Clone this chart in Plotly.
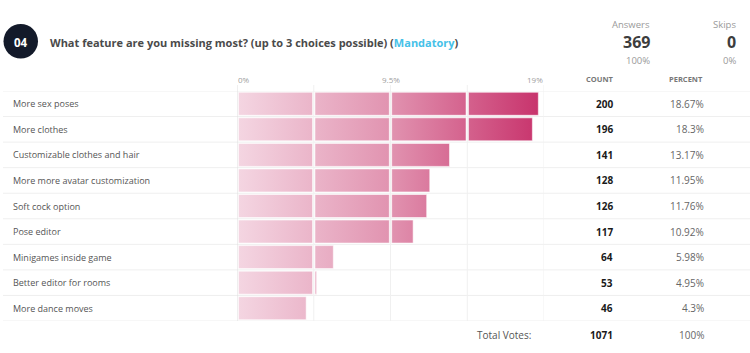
import plotly.graph_objects as go

# ---------------- data ----------------
categories = [
    "More sex poses",
    "More clothes",
    "Customizable clothes and hair",
    "More more avatar customization",
    "Soft cock option",
    "Pose editor",
    "Minigames inside game",
    "Better editor for rooms",
    "More dance moves",
]
counts = [200, 196, 141, 128, 126, 117, 64, 53, 46]
percents = [18.67, 18.3, 13.17, 11.95, 11.76, 10.92, 5.98, 4.95, 4.3]
total_votes = 1071
answers = 369
answers_pct = "100%"
skips = 0
skips_pct = "0%"
axis_max = 19
tick_vals = [0, 9.5, 19]
tick_labels = ["0%", "9.5%", "19%"]
n_segments = 4
question_no = "04"
question = "What feature are you missing most? (up to 3 choices possible)"

# ---------------- layout geometry ----------------
W, H = 750, 353
L, R, T, B = 237, 206, 91, 32
PW, PH = W - L - R, H - T - B
FONT = "Open Sans"


def px(xpix):
    return (xpix - L) / PW


def py(ypix):
    return 1 - (ypix - T) / PH


seg_w = axis_max / n_segments
seg_edges = [k * seg_w for k in range(n_segments + 1)]
gap = 1.2 / (PW / axis_max)  # ~1.2px in data units
half = 0.45

fig = go.Figure()

for i, (cat, v) in enumerate(zip(categories, percents)):
    xs, ys = [], []
    for k in range(n_segments):
        s, e = seg_edges[k], min(seg_edges[k + 1], v)
        if e <= s:
            break
        s2 = s + (gap if k > 0 else gap * 1.2)
        e2 = e - (gap if e == seg_edges[k + 1] else 0.02)
        xs += [s2, e2, e2, s2, s2, None]
        ys += [i - half, i - half, i + half, i + half, i - half, None]
    fig.add_trace(go.Scatter(
        x=xs, y=ys, mode="lines", fill="toself",
        line=dict(color="rgba(255,255,255,0.55)", width=1),
        fillgradient=dict(type="horizontal", start=0, stop=axis_max,
                          colorscale=[[0, "#f4d6e2"], [0.5, "#e193b0"], [1, "#c7306a"]]),
        hoverinfo="skip", showlegend=False, name=cat,
    ))

shapes = []
# row separators
for i in range(len(categories) + 1):
    shapes.append(dict(type="line", xref="paper", yref="y", x0=px(3), x1=px(750),
                       y0=i - 0.5, y1=i - 0.5, line=dict(color="#efefef", width=1), layer="below"))
# vertical grid lines
for k, xe in enumerate(seg_edges):
    shapes.append(dict(type="line", xref="x", yref="paper", x0=xe, x1=xe,
                       y0=0, y1=py(85), layer="below",
                       line=dict(color="#e0e0e0" if k == 0 else "#f0f0f0", width=1)))
# number circle
shapes.append(dict(type="circle", xref="paper", yref="paper",
                   x0=px(3.5), x1=px(38), y0=py(58.5), y1=py(24),
                   fillcolor="#131a2a", line=dict(width=0)))

ann = []


def add(text, xpix, ypix, anchor="left", size=10, color="#555", bold=False, family=FONT):
    ann.append(dict(text=f"<b>{text}</b>" if bold else text, xref="paper", yref="paper",
                    x=px(xpix), y=py(ypix), xanchor=anchor, yanchor="middle",
                    showarrow=False, borderpad=0, font=dict(size=size, color=color, family=family)))


add(question_no, 21, 42, "center", 11.5, "white", True)
ann.append(dict(text=f"<b>{question} (<span style='color:#45c1e8'>Mandatory</span>)</b>",
                xref="paper", yref="paper", x=px(49), y=py(42), xanchor="left", yanchor="middle",
                showarrow=False, borderpad=0, font=dict(size=11, color="#4a4a4a", family=FONT)))

add("Answers", 651, 25, "right", 9.5, "#9a9a9a")
add(str(answers), 651, 42, "right", 16, "#3d3d3d", True)
add(answers_pct, 651, 60, "right", 9.5, "#9a9a9a")
add("Skips", 737, 25, "right", 9.5, "#9a9a9a")
add(str(skips), 737, 42, "right", 16, "#3d3d3d", True)
add(skips_pct, 737, 60, "right", 9.5, "#9a9a9a")

# axis labels
for tv, tl in zip(tick_vals, tick_labels):
    anchor = "left" if tv == 0 else ("right" if tv == axis_max else "center")
    ann.append(dict(text=tl, xref="x", yref="paper", x=tv, y=py(79),
                    xanchor=anchor, yanchor="middle", showarrow=False, borderpad=0,
                    font=dict(size=8, color="#a0a0a0", family=FONT)))
add("<b>COUNT</b>", 600, 79, "center", 7.5, "#777")
add("<b>PERCENT</b>", 686, 79, "center", 7.5, "#777")

for i, (cat, c, p) in enumerate(zip(categories, counts, percents)):
    ann.append(dict(text=cat, xref="paper", yref="y", x=px(11.5), y=i, xanchor="left",
                    yanchor="middle", showarrow=False, borderpad=0,
                    font=dict(size=9, color="#555", family=FONT)))
    ann.append(dict(text=f"<b>{c}</b>", xref="paper", yref="y", x=px(614), y=i, xanchor="right",
                    yanchor="middle", showarrow=False, borderpad=0,
                    font=dict(size=10, color="#1a1a1a", family=FONT)))
    ann.append(dict(text=f"{p:g}%", xref="paper", yref="y", x=px(705), y=i, xanchor="right",
                    yanchor="middle", showarrow=False, borderpad=0,
                    font=dict(size=10, color="#666", family=FONT)))

add("Total Votes:", 532, 335, "right", 10, "#555")
add(str(total_votes), 614, 335, "right", 10, "#1a1a1a", True)
add("100%", 705, 335, "right", 10, "#666")

fig.update_layout(
    width=W, height=H, margin=dict(l=L, r=R, t=T, b=B),
    paper_bgcolor="white", plot_bgcolor="white",
    xaxis=dict(range=[0, axis_max], showgrid=False, zeroline=False, showticklabels=False,
               fixedrange=True),
    yaxis=dict(range=[len(categories) - 0.5, -0.5], showgrid=False, zeroline=False,
               showticklabels=False, fixedrange=True),
    shapes=shapes, annotations=ann, hovermode=False,
)

fig.write_html("out.html")
